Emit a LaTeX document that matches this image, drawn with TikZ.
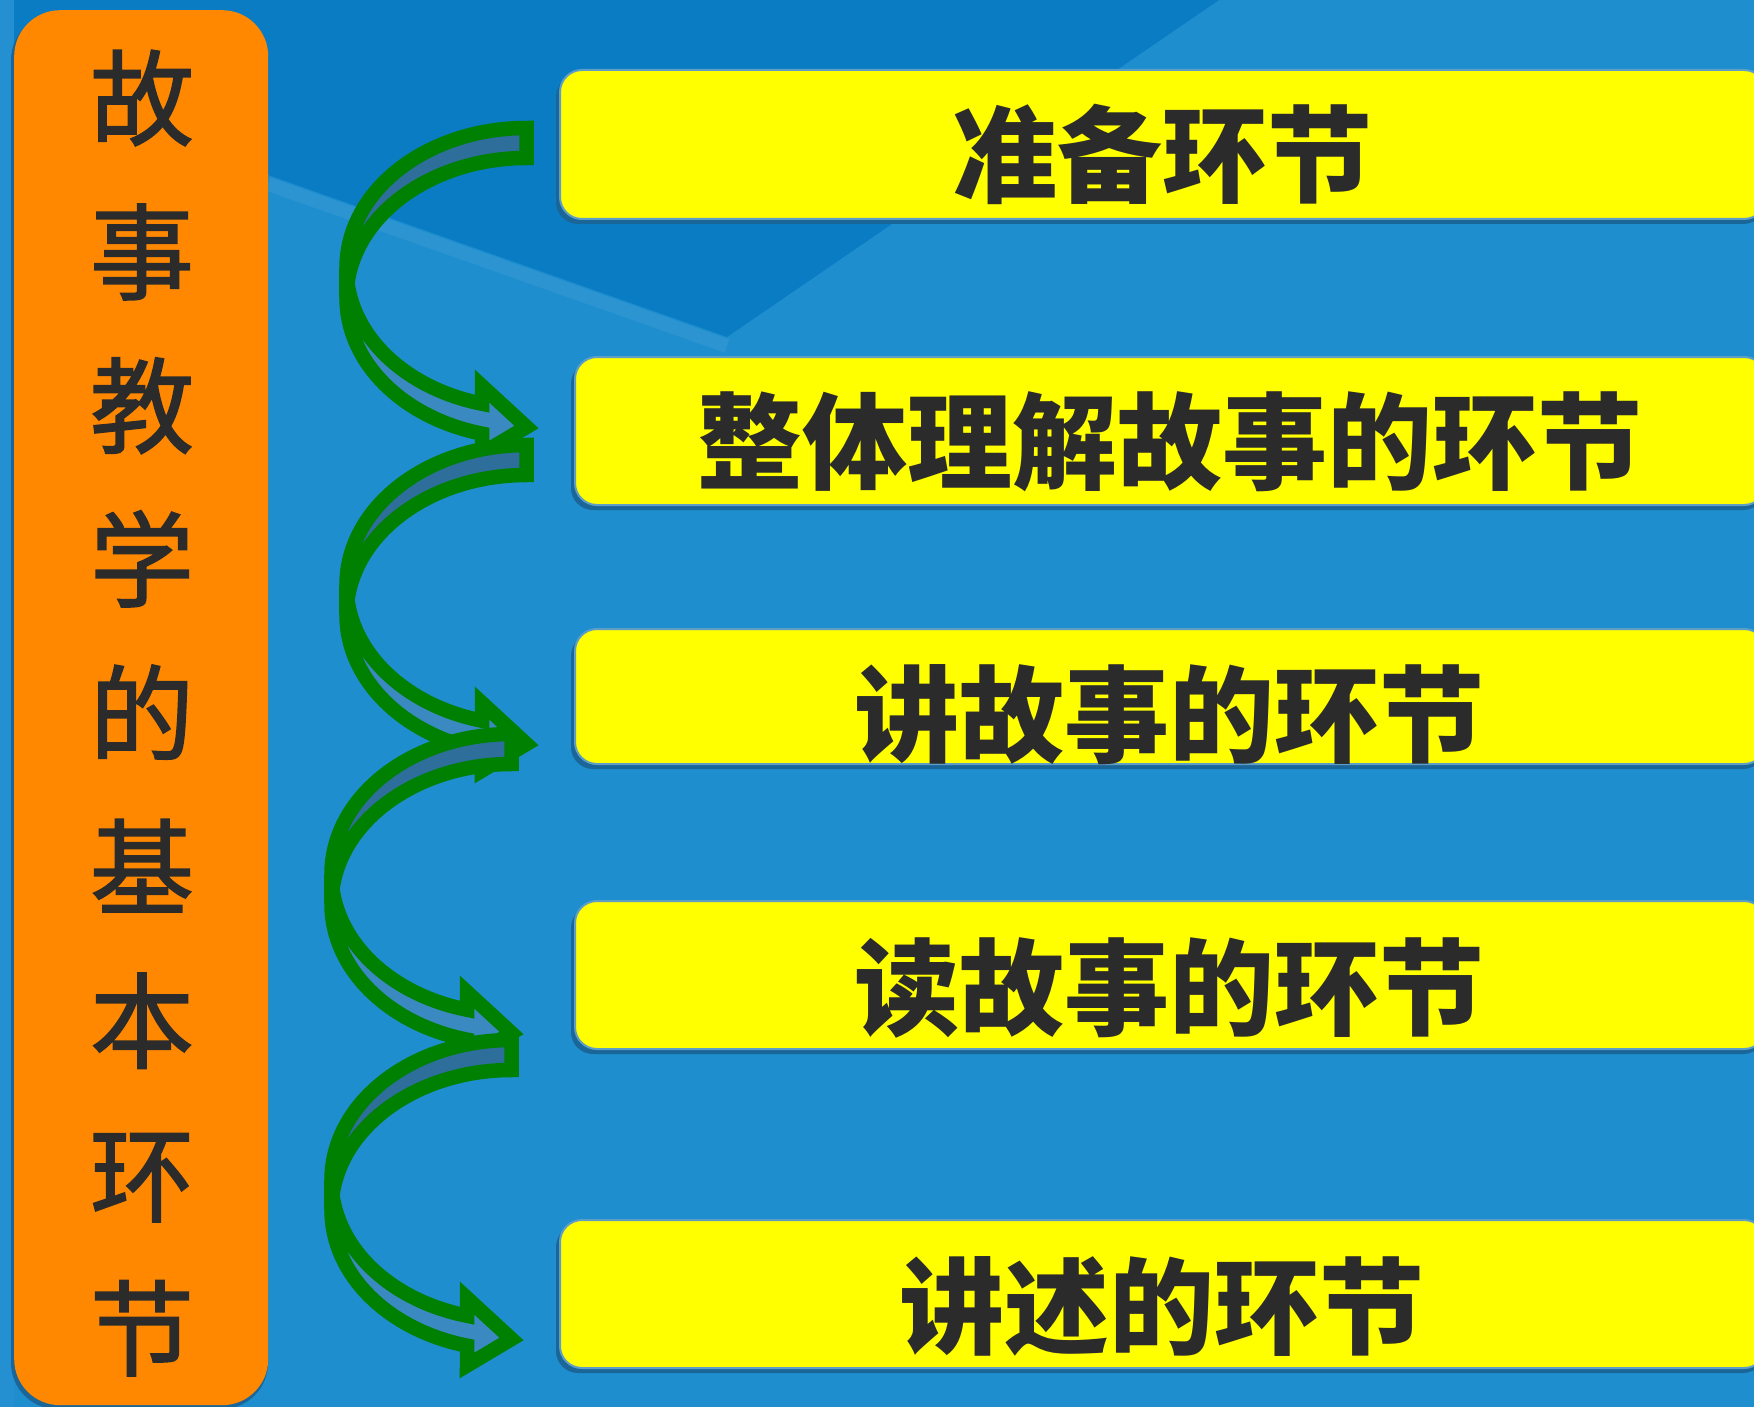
\documentclass[tikz,border=0pt]{standalone}
\usepackage{fontspec}
\newfontfamily\cjk{Noto Sans CJK SC}
\newfontfamily\cjkside[FakeBold=1.6]{Noto Sans CJK SC}
\definecolor{bgmain}{HTML}{1E8ECF}
\definecolor{bgdark}{HTML}{097CC3}
\definecolor{bgleft}{HTML}{2590D1}
\definecolor{boxyellow}{HTML}{FFFF00}
\definecolor{boxorange}{HTML}{FF8800}
\definecolor{txt}{HTML}{2B2B2B}
\definecolor{arrgreen}{HTML}{008000}
\definecolor{bandtop}{HTML}{2D6E9A}
\definecolor{bandlow}{HTML}{3B89C1}
\definecolor{shadowc}{HTML}{1A6699}
\definecolor{boxline}{HTML}{5E9EC6}
\newcommand\ArrowShapeTop[2]{({#1},{#2-140}) arc[start angle=270,end angle=180,x radius=180,y radius=140] -- ({#1-180},{#2+30}) arc[start angle=180,end angle=270,x radius=180,y radius=140] -- cycle}
\newcommand\ArrowShapeLow[2]{({#1-180},{#2+30}) arc[start angle=180,end angle=104.3,x radius=180,y radius=140] -- ({#1-44.5},{#2+185.5}) -- ({#1},{#2+159}) -- ({#1-44.5},{#2+118}) -- ({#1-44.5},{#2+135.7}) arc[start angle=104.3,end angle=180,x radius=180,y radius=140] -- cycle}
\newcommand\ArrowCurve[2]{%
  \fill[bandtop] \ArrowShapeTop{#1}{#2};
  \fill[bandlow] \ArrowShapeLow{#1}{#2};
  \draw[arrline] \ArrowShapeTop{#1}{#2};
  \draw[arrline] \ArrowShapeLow{#1}{#2};
}
\begin{document}
\begin{tikzpicture}[x=1pt,y=-1pt,
  arrline/.style={draw=arrgreen,line width=14.5pt,line join=miter},
  ybox/.style={fill=boxyellow,draw=boxline,line width=2pt,rounded corners=22pt,inner sep=0pt,anchor=north west},
  obox/.style={fill=boxorange,draw=none,rounded corners=46pt,inner sep=0pt,anchor=north west},
  ytext/.style={text=txt,font=\cjk\bfseries\fontsize{105}{110}\selectfont,anchor=base,inner sep=0pt},
  otext/.style={text=txt,font=\cjkside\fontsize{104}{110}\selectfont,anchor=base,inner sep=0pt},
  shadowbox/.style={fill=shadowc,rounded corners=22pt}]
\useasboundingbox (0,0) rectangle (1754,1407);
\clip (0,0) rectangle (1754,1407);
% background
\fill[bgmain] (0,0) rectangle (1754,1407);
\fill[bgleft] (0,0) rectangle (14,1407);
\fill[bgdark] (14,0) -- (1219,0) -- (727,337) -- (268,175) -- (14,85) -- cycle;
\draw[white,opacity=0.06,line width=14pt] (268,184) -- (727,346);
% side box
\fill[shadowc,rounded corners=46pt] (11,14) rectangle (268,1409);
\node[obox,minimum width=254pt,minimum height=1395pt] (side) at (14,10) {};
\foreach \c [count=\i from 0] in {故,事,教,学,的,基,本,环,节}
  \node[otext] (s\i) at (142,{98+153.8*\i+39.5}) {\c};
% yellow boxes
\fill[shadowbox] (556,75) rectangle (1765,224);
\node[ybox,minimum width=1206pt,minimum height=149pt] (b1) at (559,69) {};
\fill[shadowbox] (571,362) rectangle (1765,510);
\node[ybox,minimum width=1191pt,minimum height=148pt] (b2) at (574,356) {};
\fill[shadowbox] (571,634) rectangle (1765,769);
\node[ybox,minimum width=1191pt,minimum height=135pt] (b3) at (574,628) {};
\fill[shadowbox] (571,906) rectangle (1765,1054);
\node[ybox,minimum width=1191pt,minimum height=148pt] (b4) at (574,900) {};
\fill[shadowbox] (556,1225) rectangle (1765,1373);
\node[ybox,minimum width=1206pt,minimum height=148pt] (b5) at (559,1219) {};
\node[ytext] (t1) at (1162,195) {准备环节};
\node[ytext] (t2) at (1169.5,481) {整体理解故事的环节};
\node[ytext] (t3) at (1169.5,754) {讲故事的环节};
\node[ytext] (t4) at (1169.5,1027) {读故事的环节};
\node[ytext] (t5) at (1162,1346) {讲述的环节};
% curved arrows
\ArrowCurve{526.5}{268}
\ArrowCurve{526.5}{585}
\ArrowCurve{511.5}{874}
\ArrowCurve{511.5}{1180}
\end{tikzpicture}
\end{document}
